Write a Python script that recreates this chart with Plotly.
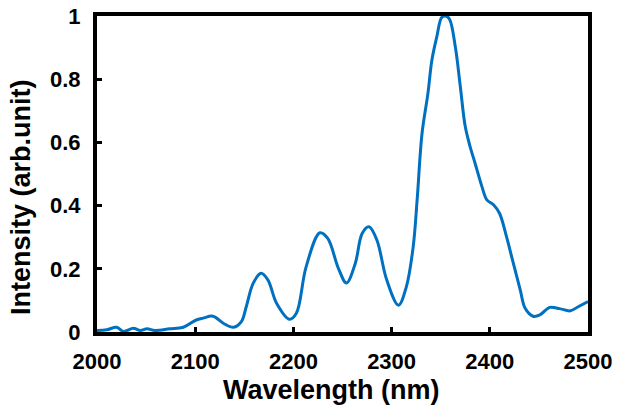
import plotly.graph_objects as go

wavelength = [2000, 2010, 2020, 2027, 2037, 2044, 2051, 2059, 2074, 2088,
              2101, 2108, 2118, 2129, 2139, 2147, 2152, 2159, 2167, 2174,
              2183, 2196, 2203, 2213, 2227, 2235, 2246, 2254, 2263, 2270,
              2277, 2285, 2295, 2307, 2315, 2322, 2326, 2331, 2337, 2341,
              2346, 2351, 2355, 2359, 2365, 2370, 2375, 2380, 2385, 2392,
              2397, 2404, 2410, 2417, 2424, 2431, 2436, 2444, 2451, 2461,
              2471, 2482, 2490, 2500]
intensity = [0.005, 0.007, 0.015, 0.002, 0.012, 0.005, 0.010, 0.005, 0.010, 0.015,
             0.038, 0.044, 0.050, 0.027, 0.015, 0.033, 0.080, 0.154, 0.186, 0.165,
             0.090, 0.040, 0.059, 0.207, 0.314, 0.296, 0.200, 0.155, 0.217, 0.312,
             0.333, 0.291, 0.165, 0.085, 0.143, 0.270, 0.418, 0.629, 0.755, 0.860,
             0.934, 0.995, 1.000, 0.990, 0.900, 0.776, 0.650, 0.586, 0.534, 0.460,
             0.418, 0.402, 0.375, 0.302, 0.217, 0.133, 0.075, 0.050, 0.054, 0.078,
             0.074, 0.067, 0.080, 0.096]

x_ticks = [2000, 2100, 2200, 2300, 2400, 2500]
x_ticklabels = ["2000", "2100", "2200", "2300", "2400", "2500"]
y_ticks = [0, 0.2, 0.4, 0.6, 0.8, 1]
y_ticklabels = ["0", "0.2", "0.4", "0.6", "0.8", "1"]

FONT = "Liberation Sans"

fig = go.Figure()
fig.add_trace(go.Scatter(
    x=wavelength, y=intensity, mode="lines",
    line=dict(color="#0070C0", width=3, shape="spline", smoothing=1.0),
    hoverinfo="skip", showlegend=False,
))

axis_common = dict(
    showline=True, linecolor="black", linewidth=4, mirror=True,
    showgrid=False, zeroline=False, automargin=False,
    ticks="inside", ticklen=5, tickwidth=3, tickcolor="black",
    tickfont=dict(family=FONT, size=22, color="black", weight="bold"),
)

fig.update_layout(
    width=617, height=411,
    margin=dict(l=97, r=29, t=16, b=79, autoexpand=False),
    paper_bgcolor="white", plot_bgcolor="white",
    xaxis=dict(range=[2000, 2500], tickvals=x_ticks, ticktext=x_ticklabels,
               ticklabelstandoff=7, **axis_common),
    yaxis=dict(range=[0, 1], tickvals=y_ticks, ticktext=y_ticklabels,
               ticklabelstandoff=8, **axis_common),
    annotations=[
        dict(text="Wavelength (nm)", xref="paper", yref="paper",
             x=0.477, y=-0.184, showarrow=False, xanchor="center", yanchor="middle",
             font=dict(family=FONT, size=27, color="black", weight="bold")),
        dict(text="Intensity (arb.unit)", xref="paper", yref="paper",
             x=-0.155, y=0.427, showarrow=False, textangle=-90,
             xanchor="center", yanchor="middle",
             font=dict(family=FONT, size=27, color="black", weight="bold")),
    ],
)

fig.write_html("out.html", config={"displayModeBar": False, "staticPlot": True},
               post_script="document.body.style.margin='0';document.body.style.overflow='hidden';")
